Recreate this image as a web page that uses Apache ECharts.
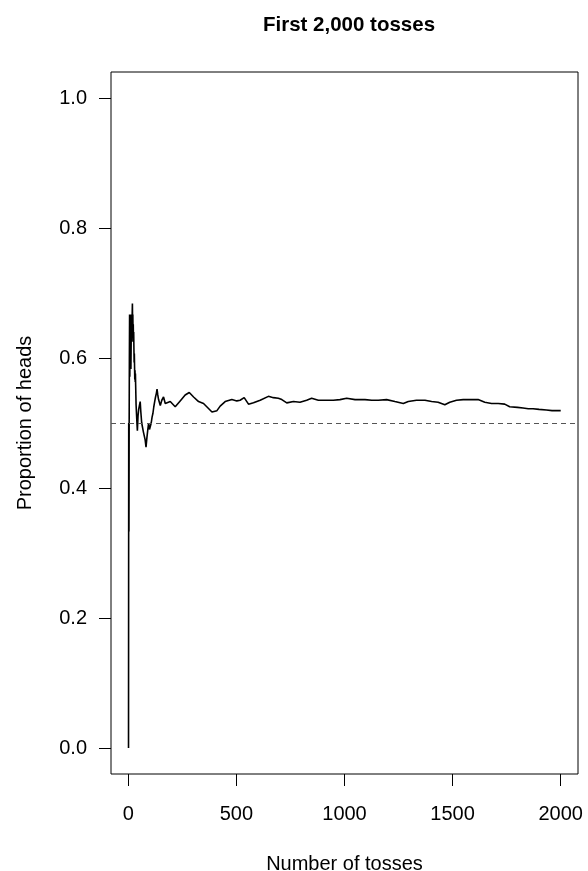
<!DOCTYPE html>
<html>
<head>
<meta charset="utf-8">
<script src="https://cdn.jsdelivr.net/npm/echarts@6.0.0/dist/echarts.min.js"></script>
<style>
html,body{margin:0;padding:0;background:#fff;}
#chart{width:588px;height:871px;}
</style>
</head>
<body>
<div id="chart"></div>
<script>
const tosses = [1,2,3,4,5,6,7,8,9,10,11,12,13,14,15,16,17,18,19,20,21,22,23,24,25,26,27,28,29,30,31,32,33,34,35,36,38,40,42,45,48,52,55,58,62,66,70,74,78,82,86,90,94,98,102,106,110,114,118,122,126,130,133,136,140,148,155,163,171,179,194,202,217,225,240,263,282,302,325,348,363,387,410,425,448,479,502,517,536,556,579,610,648,671,694,710,733,764,794,825,848,879,918,948,979,1010,1049,1095,1126,1156,1195,1233,1272,1295,1333,1372,1403,1433,1464,1487,1518,1549,1580,1618,1649,1680,1711,1741,1764,1800,1826,1850,1872,1900,1934,1960,2000];
const proportions = [0,0.5,0.333,0.5,0.6,0.667,0.571,0.625,0.667,0.6,0.636,0.583,0.615,0.643,0.667,0.625,0.647,0.667,0.684,0.65,0.667,0.636,0.652,0.625,0.64,0.615,0.593,0.607,0.586,0.567,0.581,0.563,0.576,0.559,0.543,0.528,0.526,0.5,0.488,0.511,0.521,0.519,0.533,0.517,0.5,0.5,0.486,0.486,0.474,0.463,0.477,0.489,0.5,0.49,0.49,0.5,0.509,0.515,0.525,0.533,0.54,0.546,0.552,0.544,0.536,0.527,0.535,0.540,0.530,0.527,0.533,0.532,0.525,0.527,0.534,0.543,0.547,0.540,0.533,0.530,0.525,0.517,0.519,0.526,0.533,0.536,0.534,0.535,0.539,0.529,0.531,0.535,0.541,0.539,0.538,0.536,0.531,0.533,0.532,0.535,0.538,0.535,0.535,0.535,0.536,0.538,0.536,0.536,0.535,0.535,0.536,0.533,0.530,0.533,0.535,0.535,0.533,0.532,0.528,0.532,0.535,0.536,0.536,0.536,0.532,0.530,0.530,0.529,0.525,0.524,0.523,0.522,0.522,0.521,0.520,0.519,0.519];
const xTicks = [0,500,1000,1500,2000];
const yTicks = [0,0.2,0.4,0.6,0.8,1.0];
const referenceLine = 0.5;

const FONT = '"Liberation Sans", Arial, Helvetica, sans-serif';
const chart = echarts.init(document.getElementById('chart'), null, {renderer:'canvas'});
const data = tosses.map((n,i)=>[n, proportions[i]]);

chart.setOption({
  animation:false,
  backgroundColor:'#fff',
  title:{
    text:'First 2,000 tosses',
    left:344, top:10, textAlign:'center',
    textStyle:{fontFamily:FONT, fontSize:20.5, fontWeight:'bold', color:'#000'}
  },
  grid:{left:111, right:10, top:72, bottom:97, show:true, borderColor:'#000', borderWidth:1,
        backgroundColor:'transparent', containLabel:false, outerBoundsMode:'none'},
  xAxis:{
    type:'value', min:-80, max:2080, position:'bottom',
    splitLine:{show:false},
    axisLine:{show:false, onZero:false},
    axisTick:{show:true, inside:false, length:12, customValues:xTicks, lineStyle:{color:'#000', width:1}},
    axisLabel:{customValues:xTicks, margin:30, fontSize:20, color:'#000', fontFamily:FONT, formatter:v=>String(v)},
    name:'Number of tosses', nameLocation:'middle', nameGap:80,
    nameTextStyle:{fontSize:20, color:'#000', fontFamily:FONT}
  },
  yAxis:{
    type:'value', min:-0.04, max:1.04, position:'left',
    splitLine:{show:false},
    axisLine:{show:false, onZero:false},
    axisTick:{show:true, inside:false, length:12, customValues:yTicks, lineStyle:{color:'#000', width:1}},
    axisLabel:{customValues:yTicks, margin:24, fontSize:20, color:'#000', fontFamily:FONT, formatter:v=>v.toFixed(1)},
    name:'Proportion of heads', nameLocation:'middle', nameGap:76,
    nameTextStyle:{fontSize:20, color:'#000', fontFamily:FONT}
  },
  series:[{
    type:'line', data:data, showSymbol:false, symbol:'none',
    lineStyle:{color:'#000', width:1.6},
    markLine:{
      silent:true, symbol:['none','none'], label:{show:false},
      lineStyle:{type:[5,4], color:'#555', width:1},
      data:[{yAxis:referenceLine}]
    }
  }]
});
</script>
</body>
</html>
